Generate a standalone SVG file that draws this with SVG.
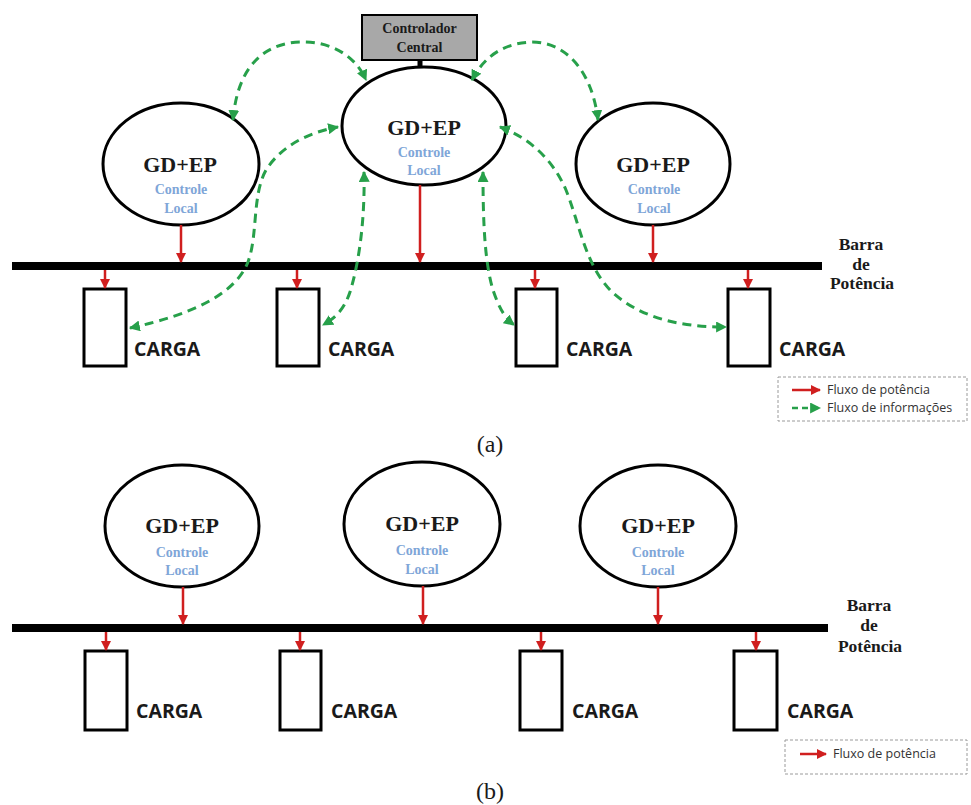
<svg xmlns="http://www.w3.org/2000/svg" width="971" height="805" viewBox="0 0 971 805">
  <style>
    .ell { fill: #ffffff; stroke: #000000; stroke-width: 3; }
    .load { fill: #ffffff; stroke: #000000; stroke-width: 3; }
    .bus { stroke: #000000; stroke-width: 8; }
    .pw { stroke: #d01f1f; stroke-width: 2.5; fill: none; marker-end: url(#redHead); }
    .info { stroke: #27a04a; stroke-width: 3; stroke-dasharray: 9 6; fill: none; marker-start: url(#greenHead); marker-end: url(#greenHead); }
    .gd { font-family: "Liberation Serif", serif; font-weight: bold; font-size: 22px; fill: #1a1a1a; text-anchor: middle; }
    .cl { font-family: "Liberation Serif", serif; font-weight: bold; font-size: 14px; fill: #7fa6d8; text-anchor: middle; }
    .carga { font-family: "Open Sans", "Liberation Sans", sans-serif; font-weight: bold; font-size: 19.5px; fill: #1a1a1a; }
    .barra { font-family: "Liberation Serif", serif; font-weight: bold; font-size: 17.5px; fill: #1a1a1a; text-anchor: middle; }
    .leg { fill: #ffffff; stroke: #9a9a9a; stroke-width: 1; stroke-dasharray: 3 2; }
    .legt { font-family: "Open Sans", "Liberation Sans", sans-serif; font-size: 12.5px; fill: #333333; }
    .cap { font-family: "Liberation Serif", serif; font-size: 24px; fill: #1a1a1a; text-anchor: middle; }
  </style>
  <defs>
    <marker id="redHead" viewBox="0 0 10 10" refX="9" refY="5" markerUnits="userSpaceOnUse" markerWidth="10" markerHeight="10" orient="auto">
      <path d="M0,0 L10,5 L0,10 z" fill="#d01f1f"/>
    </marker>
    <marker id="greenHead" viewBox="0 0 10 10" refX="9" refY="5" markerUnits="userSpaceOnUse" markerWidth="11" markerHeight="11" orient="auto-start-reverse">
      <path d="M0,0 L10,5 L0,10 z" fill="#27a04a"/>
    </marker>
  </defs>

  <!-- ===== (a) centralised control ===== -->
  <g id="bus-a">
    <line class="bus" x1="12" y1="266" x2="822" y2="266"/>
    <text class="barra" x="861" y="250">Barra</text>
    <text class="barra" x="861" y="270">de</text>
    <text class="barra" x="862" y="289">Potência</text>
  </g>

  <g id="controlador">
    <rect x="362" y="15" width="115" height="45" fill="#a8a8a8" stroke="#000000" stroke-width="2"/>
    <text x="419.5" y="33" font-family="Liberation Serif, serif" font-weight="bold" font-size="14px" fill="#1a1a1a" text-anchor="middle">Controlador</text>
    <text x="419.5" y="52" font-family="Liberation Serif, serif" font-weight="bold" font-size="14px" fill="#1a1a1a" text-anchor="middle">Central</text>
    <line x1="420" y1="60" x2="420" y2="68" stroke="#000000" stroke-width="5"/>
  </g>

  <g id="gd-a-left">
    <ellipse class="ell" cx="181" cy="164" rx="78" ry="61"/>
    <text class="gd" x="180" y="172">GD+EP</text>
    <text class="cl" x="181" y="194">Controle</text>
    <text class="cl" x="181" y="213">Local</text>
  </g>
  <g id="gd-a-center">
    <ellipse class="ell" cx="424" cy="126" rx="82" ry="59"/>
    <text class="gd" x="424" y="135">GD+EP</text>
    <text class="cl" x="424" y="157">Controle</text>
    <text class="cl" x="424" y="175">Local</text>
  </g>
  <g id="gd-a-right">
    <ellipse class="ell" cx="653" cy="164" rx="77" ry="61"/>
    <text class="gd" x="653" y="172">GD+EP</text>
    <text class="cl" x="654" y="194">Controle</text>
    <text class="cl" x="654" y="213">Local</text>
  </g>

  <g id="carga-a-1">
    <rect class="load" x="84" y="289" width="42" height="77"/>
    <text class="carga" x="134" y="356">CARGA</text>
  </g>
  <g id="carga-a-2">
    <rect class="load" x="277" y="289" width="42" height="77"/>
    <text class="carga" x="328" y="356">CARGA</text>
  </g>
  <g id="carga-a-3">
    <rect class="load" x="516" y="289" width="41" height="77"/>
    <text class="carga" x="566" y="356">CARGA</text>
  </g>
  <g id="carga-a-4">
    <rect class="load" x="728" y="289" width="42" height="77"/>
    <text class="carga" x="779" y="356">CARGA</text>
  </g>

  <g id="connectors-a">
    <!-- power flow -->
    <line class="pw" x1="181" y1="225" x2="181" y2="262"/>
    <line class="pw" x1="420" y1="185" x2="420" y2="262"/>
    <line class="pw" x1="653" y1="225" x2="653" y2="262"/>
    <line class="pw" x1="105" y1="270" x2="105" y2="288"/>
    <line class="pw" x1="297" y1="270" x2="297" y2="288"/>
    <line class="pw" x1="535" y1="270" x2="535" y2="288"/>
    <line class="pw" x1="748" y1="270" x2="748" y2="288"/>
    <!-- information flow -->
    <path class="info" d="M233,120 C238,60 270,43 300,42 C330,41 355,55 366,80"/>
    <path class="info" d="M472,80 C485,55 505,43 532,42 C565,42 592,70 598,120"/>
    <path class="info" d="M130,328 C190,315 235,295 248,262 C258,235 252,195 266,170 C280,148 305,133 338,127"/>
    <path class="info" d="M364,172 C365,215 360,260 350,292 C344,310 335,318 323,325"/>
    <path class="info" d="M483,172 C483,215 484,260 493,290 C499,308 505,318 514,325"/>
    <path class="info" d="M500,127 C530,138 553,160 566,190 C580,225 585,265 612,292 C645,322 690,327 726,327"/>
  </g>

  <g id="legend-a">
    <rect class="leg" x="778" y="377" width="189" height="44"/>
    <line x1="792" y1="390" x2="820" y2="390" stroke="#d01f1f" stroke-width="2.5" marker-end="url(#redHead)"/>
    <text class="legt" x="827" y="394">Fluxo de potência</text>
    <line x1="792" y1="408" x2="820" y2="408" stroke="#27a04a" stroke-width="2.5" stroke-dasharray="6 4" marker-end="url(#greenHead)"/>
    <text class="legt" x="827" y="412">Fluxo de informações</text>
  </g>

  <text class="cap" x="490" y="452">(a)</text>

  <!-- ===== (b) decentralised control ===== -->
  <g id="bus-b">
    <line class="bus" x1="12" y1="628" x2="828" y2="628"/>
    <text class="barra" x="869" y="611">Barra</text>
    <text class="barra" x="869" y="631">de</text>
    <text class="barra" x="870" y="652">Potência</text>
  </g>

  <g id="gd-b-left">
    <ellipse class="ell" cx="182" cy="526" rx="77" ry="61"/>
    <text class="gd" x="182" y="533">GD+EP</text>
    <text class="cl" x="182" y="557">Controle</text>
    <text class="cl" x="182" y="575">Local</text>
  </g>
  <g id="gd-b-center">
    <ellipse class="ell" cx="422" cy="524" rx="78" ry="62"/>
    <text class="gd" x="422" y="531">GD+EP</text>
    <text class="cl" x="422" y="555">Controle</text>
    <text class="cl" x="422" y="574">Local</text>
  </g>
  <g id="gd-b-right">
    <ellipse class="ell" cx="658" cy="526" rx="78" ry="61"/>
    <text class="gd" x="658" y="533">GD+EP</text>
    <text class="cl" x="658" y="557">Controle</text>
    <text class="cl" x="658" y="575">Local</text>
  </g>

  <g id="carga-b-1">
    <rect class="load" x="85" y="651" width="42" height="79"/>
    <text class="carga" x="136" y="718">CARGA</text>
  </g>
  <g id="carga-b-2">
    <rect class="load" x="280" y="651" width="41" height="79"/>
    <text class="carga" x="331" y="718">CARGA</text>
  </g>
  <g id="carga-b-3">
    <rect class="load" x="520" y="651" width="42" height="79"/>
    <text class="carga" x="572" y="718">CARGA</text>
  </g>
  <g id="carga-b-4">
    <rect class="load" x="734" y="651" width="43" height="79"/>
    <text class="carga" x="787" y="718">CARGA</text>
  </g>

  <g id="connectors-b">
    <line class="pw" x1="183" y1="587" x2="183" y2="624"/>
    <line class="pw" x1="423" y1="586" x2="423" y2="624"/>
    <line class="pw" x1="658" y1="587" x2="658" y2="624"/>
    <line class="pw" x1="106" y1="632" x2="106" y2="650"/>
    <line class="pw" x1="300" y1="632" x2="300" y2="650"/>
    <line class="pw" x1="541" y1="632" x2="541" y2="650"/>
    <line class="pw" x1="756" y1="632" x2="756" y2="650"/>
  </g>

  <g id="legend-b">
    <rect class="leg" x="785" y="740" width="182" height="34"/>
    <line x1="800" y1="754" x2="826" y2="754" stroke="#d01f1f" stroke-width="2.5" marker-end="url(#redHead)"/>
    <text class="legt" x="833" y="758">Fluxo de potência</text>
  </g>

  <text class="cap" x="490" y="799">(b)</text>
</svg>
